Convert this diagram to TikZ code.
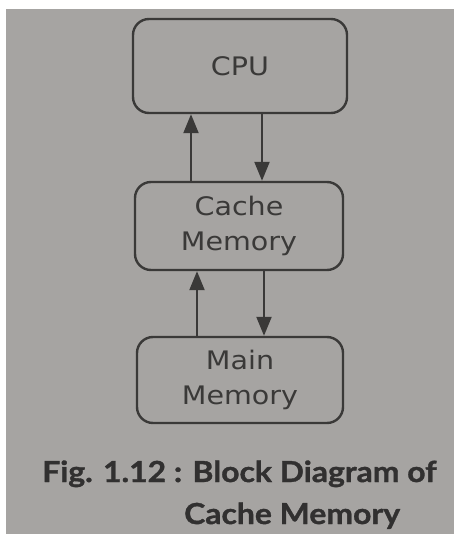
\documentclass[tikz,border=0pt]{standalone}
\usepackage{fontspec}
\usetikzlibrary{arrows.meta}
\newfontfamily\boxfont[FakeStretch=1.12]{DejaVu Sans}
\newfontfamily\capfont[FakeStretch=1.1, BoldFeatures={FakeBold=1.2}]{Lato}
\definecolor{paper}{RGB}{166,164,162}
\definecolor{ink}{RGB}{58,57,56}
\tikzset{
  x=1pt, y=-1pt,
  block/.style={draw=ink, line width=2.4pt, rounded corners=16pt,
    text=ink, align=center, inner sep=0pt,
    font=\boxfont\fontsize{25.5}{35}\selectfont},
  flow/.style={draw=ink, line width=2.2pt,
    -{Triangle[width=15pt,length=19pt]}},
  caption/.style={text=ink!85!black, inner sep=0pt,
    font=\capfont\bfseries\fontsize{29}{42}\selectfont}
}
\begin{document}
\begin{tikzpicture}
  % page and paper area
  \useasboundingbox (0,0) rectangle (457,534);
  \fill[white] (0,0) rectangle (457,534);
  \fill[paper] (6,9) rectangle (454,534);

  % blocks
  \node[block, minimum width=214pt, minimum height=94pt] (cpu) at (240,66) {CPU};
  \node[block, minimum width=208pt, minimum height=88pt] (cache) at (239,226) {Cache\\Memory};
  \node[block, minimum width=206pt, minimum height=86pt] (main) at (240,380) {Main\\Memory};

  % columns of the connectors
  \coordinate (upA) at (191,0);
  \coordinate (dnA) at (262,0);
  \coordinate (upB) at (197,0);
  \coordinate (dnB) at (264,0);

  % CPU <-> cache
  \draw[flow] (cache.north -| upA) -- (cpu.south -| upA);
  \draw[flow] (cpu.south -| dnA) -- (cache.north -| dnA);
  % cache <-> main memory
  \draw[flow] (main.north -| upB) -- (cache.south -| upB);
  \draw[flow] (cache.south -| dnB) -- (main.north -| dnB);

  % caption
  \node[caption, anchor=base west] (cap1) at (42,482) {Fig. 1.12 : Block Diagram of};
  \node[caption, anchor=base west] (cap2) at (184,524) {Cache Memory};
\end{tikzpicture}
\end{document}
